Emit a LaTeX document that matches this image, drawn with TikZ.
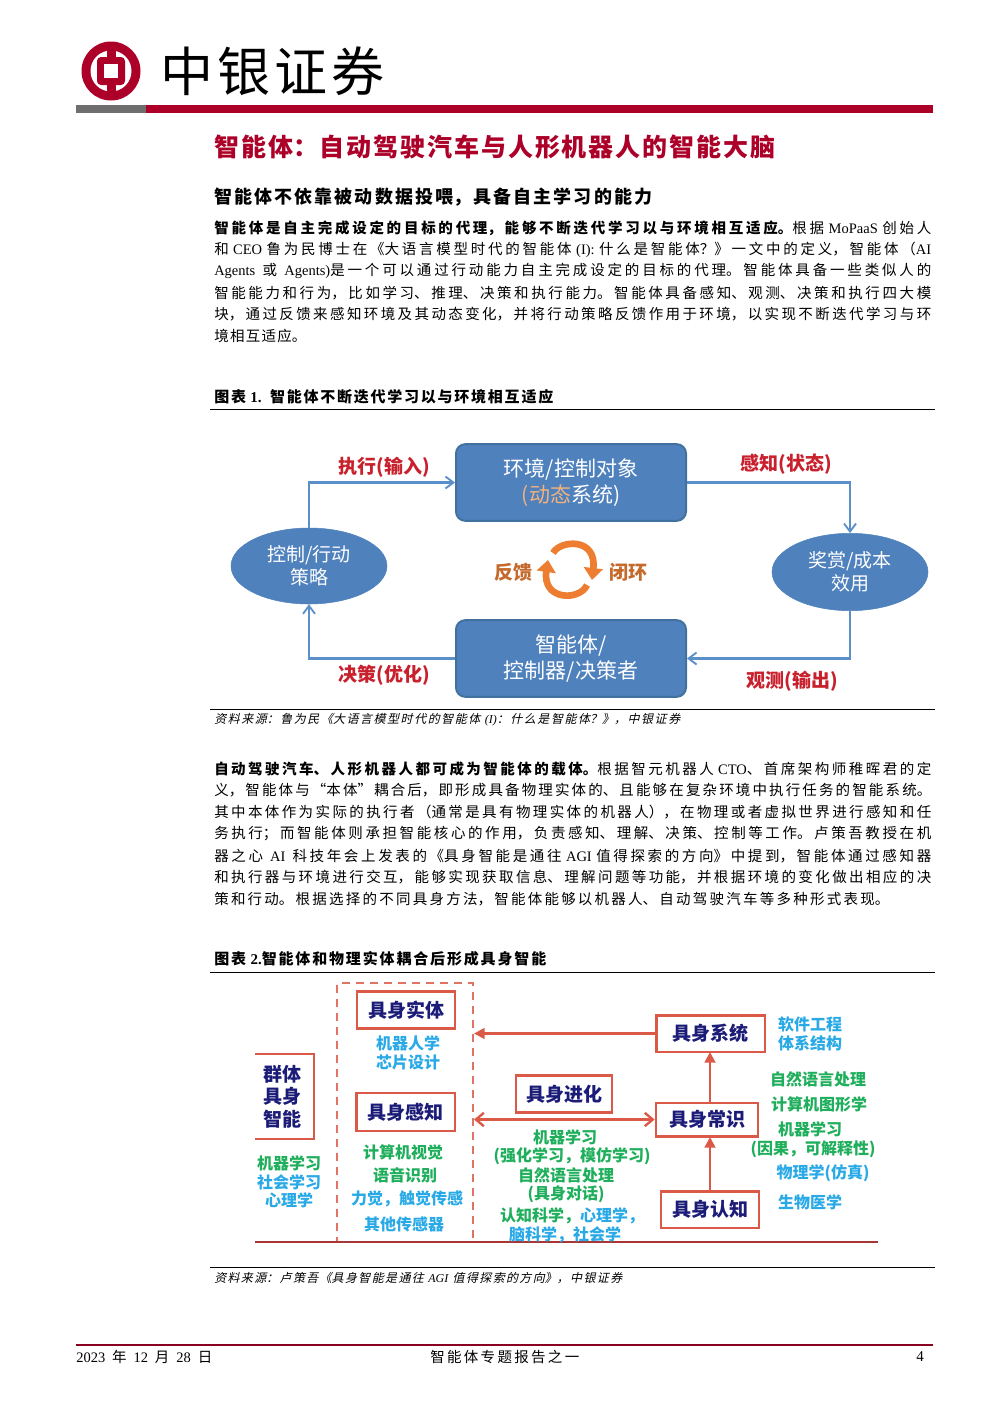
\documentclass[tikz,border=0pt]{standalone}
\usepackage{fontspec}
\usetikzlibrary{arrows.meta,calc,shapes.geometric}
\setmainfont{Noto Sans CJK SC}
\newfontfamily\latfont{Liberation Serif}
\newfontfamily\cjkit[FakeSlant=0.22]{Noto Sans CJK SC}
\newfontfamily\latit{Liberation Serif Italic}
\definecolor{bocred}{HTML}{AC0029}
\definecolor{bocgray}{HTML}{6E6E6E}
\definecolor{boxblue}{HTML}{4F81BD}
\definecolor{boxedge}{HTML}{41719C}
\definecolor{flowline}{HTML}{5B8FC9}
\definecolor{labred}{HTML}{C8202C}
\definecolor{loop}{HTML}{ED7D31}
\definecolor{looptext}{HTML}{C46A2C}
\definecolor{paleorange}{HTML}{F2B27E}
\definecolor{salmon}{HTML}{DB5A47}
\definecolor{navy}{HTML}{1B1B78}
\definecolor{skyb}{HTML}{29A9E6}
\definecolor{leaf}{HTML}{1FAE5B}
\definecolor{floorred}{HTML}{A93636}
\newcommand{\fsz}[2]{\fontsize{\fpeval{#1*0.75}}{\fpeval{#2*0.75}}\selectfont}
\newcommand{\lat}[1]{{\latfont #1}}
\newcommand{\gp}{\hspace{0pt plus 1fil}}
\newcounter{tc}
\newcommand{\jl}[5][black]{%
  \stepcounter{tc}%
  \node[anchor=west,inner sep=0pt,text=#1,text width=#4*0.75pt,name=t\arabic{tc}] at (#2,#3) {%
    \XeTeXlinebreaklocale "zh"\XeTeXlinebreakskip=0pt plus 1fil\relax
    \tolerance=10000 \hbadness=10000 \parindent=0pt \parfillskip=0pt #5\par};}
\newcommand{\lab}[4]{%
  \stepcounter{tc}%
  \node[inner sep=0pt,text=#3,font=\fsz{16}{18}\bfseries,name=t\arabic{tc}] at (#1,#2) {#4};}
\newcommand{\dlab}[4]{%
  \stepcounter{tc}%
  \node[inner sep=0pt,text=#3,font=\fsz{19}{22}\bfseries,name=t\arabic{tc}] at (#1,#2) {#4};}
\tikzset{
  bar/.style={fill=#1,draw=none},
  thinrule/.style={draw=black,line width=0.75pt},
  bluebox/.style={draw=boxedge,line width=1.5pt,fill=boxblue,rounded corners=7pt,minimum width=172.5pt,minimum height=57.5pt,text=white,inner sep=0pt,align=center,font=\fsz{21}{24.5}},
  blueell/.style={draw=boxblue,fill=boxblue,ellipse,text=white,inner sep=0pt,align=center,font=\fsz{19}{23}},
  flow/.style={draw=flowline,line width=1.6pt,-{Straight Barb[length=6pt,width=9pt,line width=1.4pt]}},
  loopar/.style={draw=loop,line width=5pt,-{Triangle[length=9pt,width=14pt]}},
  redbox/.style={draw=salmon,line width=2pt,fill=white,text=navy,inner sep=0pt,font=\fsz{19}{22}\bfseries},
  redar/.style={draw=salmon,line width=2pt,-{Triangle[length=8pt,width=8pt]}},
  redbar/.style={draw=salmon,line width=2pt,{Straight Barb[length=6pt,width=10pt,line width=1.8pt]}-{Straight Barb[length=6pt,width=10pt,line width=1.8pt]}},
}
\begin{document}
\begin{tikzpicture}[x=0.75pt,y=-0.75pt]
\useasboundingbox (0,0) rectangle (992,1403);
% logo
\fill[bocred] (111,71) circle[radius=29.5];
\fill[white] (111,71) circle[radius=20.5];
\fill[bocred] (106.5,42) rectangle (115.5,100);
\fill[bocred,rounded corners=3pt] (97,57) rectangle (125,85);
\fill[white] (104,64) rectangle (118,78);
\jl{160}{71}{224}{\fsz{53}{56}中银证券}
\fill[bar=bocgray] (76,105) rectangle (146,113);
\fill[bar=bocred] (146,105) rectangle (933,113);
% headings
\jl[bocred]{214}{147}{561}{\fsz{25}{28}\bfseries 智能体：自动驾驶汽车与人形机器人的智能大脑}
\jl{214}{197}{438}{\fsz{18}{20}\bfseries 智能体不依靠被动数据投喂，具备自主学习的能力}
% paragraph 1
\jl{214}{228}{717}{\fsz{14.5}{16}\textbf{智能体是自主完成设定的目标的代理，能够不断迭代学习以与环境相互适应。}根据 \lat{MoPaaS} 创始人}
\jl{214}{250}{717}{\fsz{14.5}{16}和 \lat{CEO} 鲁为民博士在《大语言模型时代的智能体 \lat{(I):} 什么是智能体？》一文中的定义，智能体（\lat{AI}}
\jl{214}{271}{717}{\fsz{14.5}{16}\lat{Agents}\gp{} 或\gp{} \lat{Agents)}是一个可以通过行动能力自主完成设定的目标的代理。智能体具备一些类似人的}
\jl{214}{293}{717}{\fsz{14.5}{16}智能能力和行为，比如学习、推理、决策和执行能力。智能体具备感知、观测、决策和执行四大模}
\jl{214}{314}{717}{\fsz{14.5}{16}块，通过反馈来感知环境及其动态变化，并将行动策略反馈作用于环境，以实现不断迭代学习与环}
\jl{214}{336}{92}{\fsz{14.5}{16}境相互适应。}
% figure 1 heading
\jl{214}{397}{339}{\fsz{15}{17}\bfseries 图表 \lat{1.}\gp{} 智能体不断迭代学习以与环境相互适应}
\coordinate (r1a) at (210,409.5); \coordinate (r1b) at (935,409.5);
\draw[thinrule] (r1a) -- (r1b);
% figure 1
\node[bluebox] (env) at (571,482.5) {环境/控制对象\\[1pt]{\color{paleorange}(动态}系统)};
\node[bluebox] (agent) at (571,658.5) {智能体/\\[1pt]控制器/决策者};
\node[blueell,minimum width=117pt,minimum height=57pt] (policy) at (309,566) {控制/行动\\策略};
\node[blueell,minimum width=117pt,minimum height=58pt] (reward) at (850,572) {奖赏/成本\\效用};
\draw[flow] (policy.north) |- (env.west);
\draw[flow] (env.east) -| (reward.north);
\draw[flow] (reward.south) |- (agent.east);
\draw[flow] (agent.west) -| (policy.south);
\dlab{384}{467}{labred}{执行(输入)}
\dlab{786}{464}{labred}{感知(状态)}
\dlab{792}{681}{labred}{观测(输出)}
\dlab{384}{675}{labred}{决策(优化)}
\dlab{513}{572}{looptext}{反馈}
\dlab{628}{572}{looptext}{闭环}
\coordinate (l1) at (553,553); \coordinate (l2) at (592,580);
\coordinate (l3) at (587,585); \coordinate (l4) at (548,560);
\draw[loopar] (l1) .. controls (560,540) and (597,537) .. (l2);
\draw[loopar] (l3) .. controls (580,601) and (542,601) .. (l4);
% source 1
\coordinate (r2a) at (210,709.5); \coordinate (r2b) at (935,709.5);
\draw[thinrule] (r2a) -- (r2b);
\jl{214}{720}{466}{\fsz{12}{14}\cjkit 资料来源：鲁为民《大语言模型时代的智能体 {\latit (I)}：什么是智能体？》，中银证券}
% paragraph 2
\jl{214}{769}{717}{\fsz{14.5}{16}\textbf{自动驾驶汽车、人形机器人都可成为智能体的载体。}根据智元机器人 \lat{CTO}、首席架构师稚晖君的定}
\jl{214}{790}{717}{\fsz{14.5}{16}义，智能体与“本体”耦合后，即形成具备物理实体的、且能够在复杂环境中执行任务的智能系统。}
\jl{214}{812}{717}{\fsz{14.5}{16}其中本体作为实际的执行者（通常是具有物理实体的机器人），在物理或者虚拟世界进行感知和任}
\jl{214}{834}{717}{\fsz{14.5}{16}务执行；而智能体则承担智能核心的作用，负责感知、理解、决策、控制等工作。卢策吾教授在机}
\jl{214}{856}{717}{\fsz{14.5}{16}器之心\gp{} \lat{AI}\gp{} 科技年会上发表的《具身智能是通往 \lat{AGI} 值得探索的方向》中提到，智能体通过感知器}
\jl{214}{877}{717}{\fsz{14.5}{16}和执行器与环境进行交互，能够实现获取信息、理解问题等功能，并根据环境的变化做出相应的决}
\jl{214}{899}{675}{\fsz{14.5}{16}策和行动。根据选择的不同具身方法，智能体能够以机器人、自动驾驶汽车等多种形式表现。}
% figure 2 heading
\jl{214}{959}{332}{\fsz{15}{17}\bfseries 图表 \lat{2.}智能体和物理实体耦合后形成具身智能}
\coordinate (r3a) at (210,972); \coordinate (r3b) at (935,972);
\draw[thinrule] (r3a) -- (r3b);
% figure 2
\node[draw=salmon!85!white,line width=1.5pt,dash pattern=on 6pt off 4.5pt,minimum width=102pt,minimum height=194pt,inner sep=0pt] (dashbox) at (405,1112.5) {};
\coordinate (blA) at (255,1242); \coordinate (blB) at (878,1242);
\draw[draw=floorred,line width=1.5pt] (blA) -- (blB);
\coordinate (gA) at (255,1054); \coordinate (gB) at (314,1054); \coordinate (gC) at (314,1139); \coordinate (gD) at (255,1139);
\draw[draw=salmon,line width=2pt] (gA) -- (gB) -- (gC) -- (gD);
\node[inner sep=0pt,text=navy,font=\fsz{19}{22.5}\bfseries,align=center] (swarm) at (282,1096.5) {群体\\具身\\智能};
\node[redbox,minimum width=73.5pt,minimum height=27.5pt] (entity) at (406,1010) {具身实体};
\node[redbox,minimum width=74pt,minimum height=28.5pt] (percept) at (405.5,1112) {具身感知};
\node[redbox,minimum width=72pt,minimum height=27.5pt] (evolve) at (564,1094) {具身进化};
\node[redbox,minimum width=81.5pt,minimum height=27.5pt] (system) at (710.5,1033.5) {具身系统};
\node[redbox,minimum width=76.5pt,minimum height=25pt] (common) at (707,1119.5) {具身常识};
\node[redbox,minimum width=73.5pt,minimum height=27.5pt] (cognit) at (710,1209.5) {具身认知};
\draw[redar] (system.west) -- (system.west -| dashbox.east);
\draw[redbar] (common.west) -- (common.west -| dashbox.east);
\coordinate (upA) at (710,1190); \coordinate (upB) at (710,1137);
\draw[redar] (upA) -- (upB);
\coordinate (upC) at (710,1103); \coordinate (upD) at (710,1052);
\draw[redar] (upC) -- (upD);
\lab{408}{1043}{skyb}{机器人学}
\lab{408}{1062}{skyb}{芯片设计}
\lab{403}{1152}{leaf}{计算机视觉}
\lab{405}{1175}{leaf}{语音识别}
\lab{407}{1199}{skyb}{力觉，触觉传感}
\lab{404}{1224}{skyb}{其他传感器}
\lab{289}{1163}{leaf}{机器学习}
\lab{289}{1182}{skyb}{社会学习}
\lab{289}{1200}{skyb}{心理学}
\lab{565}{1137}{leaf}{机器学习}
\lab{572}{1156}{leaf}{(强化学习，模仿学习)}
\lab{566}{1175}{leaf}{自然语言处理}
\lab{566}{1194}{leaf}{(具身对话)}
\lab{572}{1216}{leaf}{认知科学，{\color{skyb}心理学，}}
\lab{565}{1235}{skyb}{脑科学，社会学}
\lab{810}{1024}{skyb}{软件工程}
\lab{810}{1043}{skyb}{体系结构}
\lab{818}{1079}{leaf}{自然语言处理}
\lab{819}{1104}{leaf}{计算机图形学}
\lab{810}{1129}{leaf}{机器学习}
\lab{813}{1149}{leaf}{(因果，可解释性)}
\lab{823}{1173}{skyb}{物理学(仿真)}
\lab{810}{1202}{skyb}{生物医学}
% source 2
\coordinate (r4a) at (210,1267); \coordinate (r4b) at (935,1267);
\draw[thinrule] (r4a) -- (r4b);
\jl{214}{1278}{408}{\fsz{12}{14}\cjkit 资料来源：卢策吾《具身智能是通往 {\latit AGI} 值得探索的方向》，中银证券}
% footer
\coordinate (fa) at (76,1345); \coordinate (fb) at (933,1345);
\draw[draw=bocred!80!black,line width=1pt] (fa) -- (fb);
\jl{76}{1357}{136}{\fsz{14.5}{16}\lat{2023}\gp{} 年\gp{} \lat{12}\gp{} 月\gp{} \lat{28}\gp{} 日}
\jl{430}{1357}{149}{\fsz{14.5}{16}智能体专题报告之一}
\node[inner sep=0pt,font=\fsz{15}{16}\latfont] (pageno) at (920,1357) {4};
\end{tikzpicture}
\end{document}
